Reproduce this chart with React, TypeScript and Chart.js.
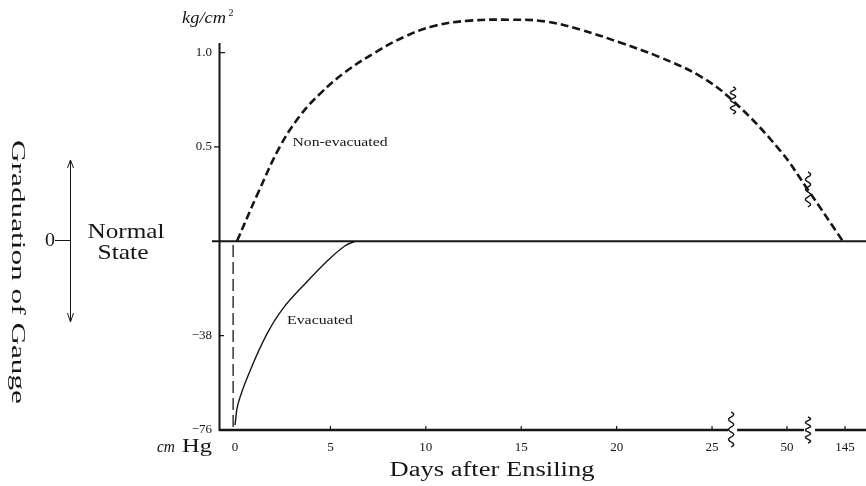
import React, { useEffect, useRef } from "react";
import { Chart, registerables } from "chart.js";

Chart.register(...registerables);

// Position on the (broken) day axis: 0..25 are days; 50 and 145 sit beyond two axis breaks.
const X_TICK_POS = [0, 5, 10, 15, 20, 25, 28.93, 31.97];
const X_TICK_LABELS = ["0", "5", "10", "15", "20", "25", "50", "145"];
const AXIS_BREAKS = [26.0, 30.03];

// Upper half: kg/cm²  (1 unit = 1 kg/cm²)
const Y_TICK_VALUES = [1.0, 0.5, -38 / 76, -76 / 76];
const Y_TICK_LABELS = ["1.0", "0.5", "\u221238", "\u221276"];

// Non-evacuated silo pressure, kg/cm²
const NON_EVAC_POS = [0.1, 1.21, 2.36, 3.41, 4.45, 5.77, 7.34, 8.91, 10.48, 12.32, 14.41, 16.25, 18.08, 20.18, 22.27, 24.37, 26.1, 28.56, 30.03, 31.86];
const NON_EVAC_KG = [0, 0.257, 0.503, 0.666, 0.781, 0.896, 1.0, 1.085, 1.142, 1.169, 1.174, 1.165, 1.122, 1.053, 0.975, 0.875, 0.744, 0.482, 0.272, 0];

// Evacuated silo vacuum, cm Hg
const EVAC_POS = [0, 0.16, 0.79, 1.68, 2.52, 3.77, 4.82, 5.77, 6.29];
const EVAC_CMHG = [-74, -65.4, -52.1, -37.2, -27, -16.3, -8.0, -1.8, 0];

// Initial evacuation drop at day 0, cm Hg
const DROP_POS = [-0.1, -0.1];
const DROP_CMHG = [-1.5, -76];

const INK = "#161616";
const SERIF = "'Liberation Serif', 'DejaVu Serif', serif";

function fitText(ctx: CanvasRenderingContext2D, text: string, cx: number, cy: number, font: string, targetW: number, rot = 0) {
  ctx.save();
  ctx.font = font;
  const w = ctx.measureText(text).width;
  ctx.translate(cx, cy);
  ctx.rotate(rot);
  ctx.scale(targetW / w, 1);
  ctx.textAlign = "center";
  ctx.textBaseline = "middle";
  ctx.fillStyle = INK;
  ctx.fillText(text, 0, 0);
  ctx.restore();
}

function squiggle(ctx: CanvasRenderingContext2D, cx: number, y0: number, y1: number) {
  ctx.save();
  ctx.strokeStyle = INK;
  ctx.lineWidth = 1.4;
  ctx.setLineDash([]);
  ctx.beginPath();
  const n = 40;
  for (let i = 0; i <= n; i++) {
    const t = i / n;
    const x = cx + 2.6 * Math.sin(t * Math.PI * 7);
    const y = y0 + t * (y1 - y0);
    if (i === 0) ctx.moveTo(x, y);
    else ctx.lineTo(x, y);
  }
  ctx.stroke();
  ctx.restore();
}

const decorPlugin = {
  id: "decor",
  afterDatasetsDraw(chart: any) {
    const ctx: CanvasRenderingContext2D = chart.ctx;
    const xs = chart.scales.x;
    const ys = chart.scales.y;
    const area = chart.chartArea;
    const X = (v: number) => xs.getPixelForValue(v);
    const Y = (v: number) => ys.getPixelForValue(v);
    ctx.save();
    ctx.strokeStyle = INK;
    ctx.setLineDash([]);

    // left axis
    ctx.lineWidth = 2;
    ctx.beginPath();
    ctx.moveTo(area.left + 0.5, Y(1.05));
    ctx.lineTo(area.left + 0.5, Y(-1) + 1);
    ctx.stroke();

    // y tick marks
    ctx.lineWidth = 1.3;
    ctx.beginPath();
    ctx.moveTo(area.left, Y(1)); ctx.lineTo(area.left + 6, Y(1));
    ctx.moveTo(area.left - 5, Y(0.5)); ctx.lineTo(area.left, Y(0.5));
    ctx.moveTo(area.left, Y(-0.5)); ctx.lineTo(area.left + 5, Y(-0.5));
    ctx.stroke();

    // zero (normal state) line
    ctx.lineWidth = 2;
    ctx.beginPath();
    ctx.moveTo(area.left - 7, Y(0));
    ctx.lineTo(area.right, Y(0));
    ctx.stroke();

    // bottom axis with breaks
    const yb = Y(-1);
    const b1 = X(AXIS_BREAKS[0]);
    const b2 = X(AXIS_BREAKS[1]);
    ctx.lineWidth = 2.4;
    ctx.beginPath();
    ctx.moveTo(area.left, yb); ctx.lineTo(b1 - 3, yb);
    ctx.moveTo(b1 + 6, yb); ctx.lineTo(b2 - 4, yb);
    ctx.moveTo(b2 + 7, yb); ctx.lineTo(area.right, yb);
    ctx.stroke();
    squiggle(ctx, b1, yb - 18, yb + 17);
    squiggle(ctx, b2, yb - 13, yb + 13);

    // x tick marks
    ctx.lineWidth = 1.2;
    ctx.beginPath();
    X_TICK_POS.forEach((p, i) => {
      if (i === 0) return;
      ctx.moveTo(X(p), yb);
      ctx.lineTo(X(p), yb - 4);
    });
    ctx.stroke();

    // breaks on the non-evacuated curve
    squiggle(ctx, X(26.1), Y(0.744) - 14, Y(0.744) + 13);
    squiggle(ctx, X(30.03), Y(0.272) - 18, Y(0.272) + 17);

    // left annotation: arrow
    ctx.lineWidth = 1;
    ctx.beginPath();
    ctx.moveTo(70.5, 161); ctx.lineTo(70.5, 321);
    ctx.moveTo(67.5, 168); ctx.lineTo(70.5, 160); ctx.lineTo(73.5, 168);
    ctx.moveTo(67.5, 313); ctx.lineTo(70.5, 322); ctx.lineTo(73.5, 313);
    ctx.moveTo(55, 240.5); ctx.lineTo(70, 240.5);
    ctx.stroke();
    ctx.restore();

    fitText(ctx, "Graduation of Gauge", 17, 272, `19px ${SERIF}`, 264, Math.PI / 2);
    fitText(ctx, "0", 50, 241, `18px ${SERIF}`, 10);
    fitText(ctx, "Normal", 126, 232, `21px ${SERIF}`, 77);
    fitText(ctx, "State", 123, 253, `21px ${SERIF}`, 51);
    fitText(ctx, "kg/cm", 204, 19, `italic 17px ${SERIF}`, 44);
    fitText(ctx, "2", 231, 13, `10px ${SERIF}`, 5);
    fitText(ctx, "cm", 166, 448, `italic 16px ${SERIF}`, 18);
    fitText(ctx, "Hg", 197, 447, `18px ${SERIF}`, 30);
    fitText(ctx, "Days after Ensiling", 492, 471, `20px ${SERIF}`, 205);
    fitText(ctx, "Non-evacuated", 340, 143, `12px ${SERIF}`, 95);
    fitText(ctx, "Evacuated", 320, 321, `12px ${SERIF}`, 66);
  },
};

export default function App() {
  const ref = useRef<HTMLCanvasElement | null>(null);
  useEffect(() => {
    if (!ref.current) return;
    const nonEvac = NON_EVAC_POS.map((x, i) => ({ x, y: NON_EVAC_KG[i] }));
    const evac = EVAC_POS.map((x, i) => ({ x, y: EVAC_CMHG[i] / 76 }));
    const drop = DROP_POS.map((x, i) => ({ x, y: DROP_CMHG[i] / 76 }));
    const chart = new Chart(ref.current, {
      type: "line",
      data: {
        datasets: [
          {
            label: "Non-evacuated",
            data: nonEvac,
            borderColor: INK,
            borderWidth: 2.6,
            borderDash: [8, 4],
            pointRadius: 0,
            tension: 0.4,
            fill: false,
          },
          {
            label: "Evacuated",
            data: evac,
            borderColor: INK,
            borderWidth: 1.4,
            pointRadius: 0,
            tension: 0.4,
            fill: false,
          },
          {
            label: "Evacuation",
            data: drop,
            borderColor: INK,
            borderWidth: 1.3,
            borderDash: [12, 5],
            pointRadius: 0,
            fill: false,
          },
        ],
      },
      options: {
        animation: false,
        responsive: false,
        maintainAspectRatio: false,
        layout: { padding: { top: 10, right: 0, bottom: 0, left: 0 } },
        plugins: { legend: { display: false }, tooltip: { enabled: false } },
        elements: { line: { borderCapStyle: "butt" } },
        scales: {
          x: {
            type: "linear",
            min: -0.84,
            max: 33.07,
            grid: { display: false, drawTicks: false },
            border: { display: false },
            afterFit: (s: any) => { s.height = 56; },
            afterBuildTicks: (s: any) => { s.ticks = X_TICK_POS.map((v) => ({ value: v })); },
            ticks: {
              autoSkip: false,
              maxRotation: 0,
              padding: 10,
              color: INK,
              font: { family: SERIF, size: 13 },
              callback: (v: any) => {
                const i = X_TICK_POS.indexOf(Number(v));
                return i >= 0 ? X_TICK_LABELS[i] : "";
              },
            },
          },
          y: {
            type: "linear",
            min: -1,
            max: 1.2,
            grid: { display: false, drawTicks: false },
            border: { display: false },
            afterFit: (s: any) => { s.width = 219; },
            afterBuildTicks: (s: any) => { s.ticks = Y_TICK_VALUES.map((v) => ({ value: v })); },
            ticks: {
              autoSkip: false,
              padding: 7,
              color: INK,
              font: { family: SERIF, size: 13 },
              callback: (v: any) => {
                const i = Y_TICK_VALUES.findIndex((t) => Math.abs(t - Number(v)) < 1e-9);
                return i >= 0 ? Y_TICK_LABELS[i] : "";
              },
            },
          },
        },
      },
      plugins: [decorPlugin],
    } as any);
    return () => chart.destroy();
  }, []);
  return (
    <div style={{ position: "absolute", left: 0, top: 0, width: 866, height: 486, background: "#fff" }}>
      <canvas ref={ref} width={866} height={486} style={{ display: "block", width: 866, height: 486 }} />
    </div>
  );
}
